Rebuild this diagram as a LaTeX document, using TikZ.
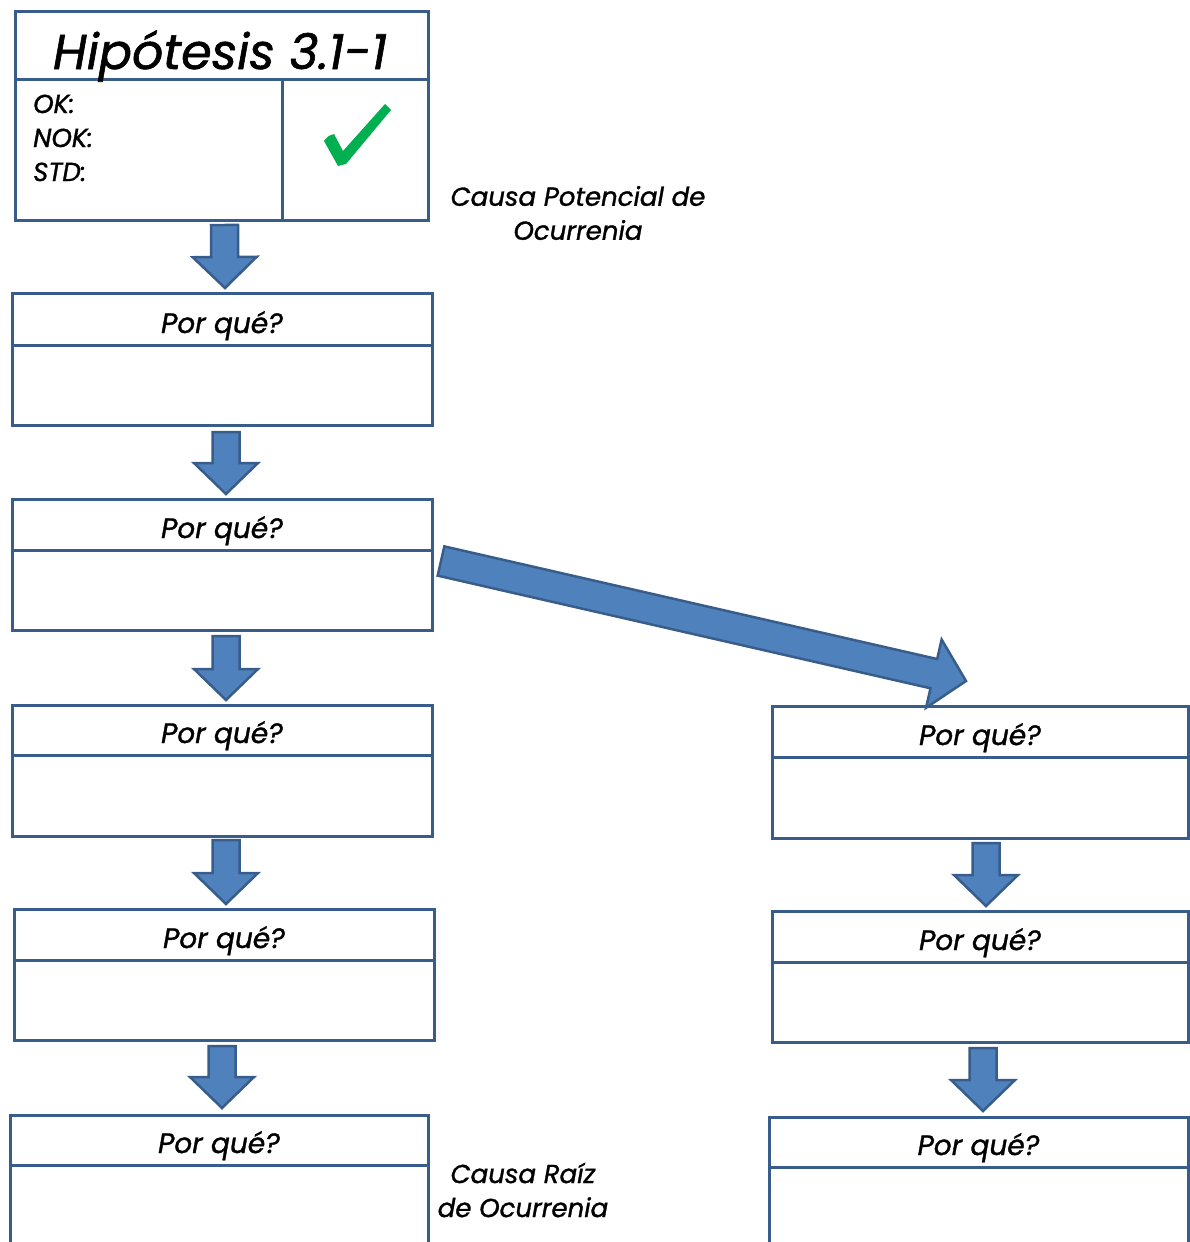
\documentclass[tikz,border=0pt]{standalone}
\usepackage{fontspec}
\setmainfont{Poppins}[ItalicFeatures={FakeBold=1.2}]
\usetikzlibrary{calc}

\definecolor{boxline}{RGB}{56,93,138}
\definecolor{arrowfill}{RGB}{79,129,189}
\definecolor{checkgreen}{RGB}{0,176,80}

\tikzset{
  frameline/.style={draw=boxline, line width=3pt},
  whyframe/.style={frameline, rectangle, inner sep=0pt, outer sep=0pt},
  whylabel/.style={font=\itshape\fontsize{28}{32}\selectfont, inner sep=0pt, anchor=base},
  fieldlabel/.style={font=\itshape\fontsize{26}{30}\selectfont, inner sep=0pt, anchor=base west},
  notelabel/.style={font=\itshape\fontsize{26}{34}\selectfont, inner sep=0pt, align=center},
  blockarrow/.style={draw=boxline, fill=arrowfill, line width=2.5pt, line join=miter},
}

% block arrow: tail, tip, shaft half width, head half width, head length
\newcommand\fatarrow[5]{%
  \coordinate (hb) at ($(#2)!#5!(#1)$);
  \draw[blockarrow] ($(#1)!#3!90:(#2)$) -- ($(hb)!#3!90:(#2)$) -- ($(hb)!#4!90:(#2)$)
    -- (#2) -- ($(hb)!#4!-90:(#2)$) -- ($(hb)!#3!-90:(#2)$) -- ($(#1)!#3!-90:(#2)$) -- cycle;
}

% "Por qué?" box: name, left, top, width, height, header height
\newcommand\whybox[6]{%
  \node[whyframe, minimum width=#4pt, minimum height=#5pt, anchor=north west] (#1) at (#2,#3) {};
  \draw[frameline] ($(#1.north west)+(0,#6)$) -- ($(#1.north east)+(0,#6)$);
  \node[whylabel] (#1-t) at ($(#1.north)+(0,#6-12)$) {Por qué?};
}

\begin{document}
\begin{tikzpicture}[x=1pt, y=-1pt]
\path[use as bounding box] (0,0) rectangle (1190,1242);
\clip (0,0) rectangle (1190,1242);

% hypothesis header box
\node[whyframe, minimum width=413pt, minimum height=209pt, anchor=north west] (hyp) at (15,11) {};
\draw[frameline] ($(hyp.north west)+(0,68)$) -- ($(hyp.north east)+(0,68)$);
\draw[frameline] ($(hyp.north west)+(267,68)$) -- ($(hyp.south west)+(267,0)$);
\node[font=\itshape\fontsize{49}{52}\selectfont, inner sep=0pt, anchor=base] (title) at (220,69) {Hipótesis 3.1-1};
\node[fieldlabel] (ok) at (33,113) {OK:};
\node[fieldlabel] (nok) at (33,147) {NOK:};
\node[fieldlabel] (std) at (33,181) {STD:};
\fill[checkgreen] (324,141) .. controls (328,136) .. (334,134) -- (343,151) -- (385,104) -- (391,110) -- (346,164) -- (338,166) -- cycle;

\node[notelabel] (potencial) at (578,213) {Causa Potencial de\\Ocurrenia};

% left column
\whybox{w1}{12}{293}{420}{132}{52}
\whybox{w2}{12}{499}{420}{131}{51}
\whybox{w3}{12}{705}{420}{131}{50}
\whybox{w4}{14}{909}{420}{131}{51}
\whybox{w5}{10}{1115}{418}{140}{50}

\node[notelabel] (raiz) at (523,1190) {Causa Raíz\\de Ocurrenia};

% right column
\whybox{r1}{772}{706}{416}{132}{51}
\whybox{r2}{772}{911}{416}{131}{51}
\whybox{r3}{769}{1117}{419}{140}{50}

% arrow end points
\coordinate (a1s) at ($(hyp.south)+(3,5)$);   \coordinate (a1e) at ($(w1.north)+(3,-5)$);
\coordinate (a2s) at ($(w1.south)+(4,7)$);    \coordinate (a2e) at ($(w2.north)+(4,-5)$);
\coordinate (a3s) at ($(w2.south)+(4,6)$);    \coordinate (a3e) at ($(w3.north)+(4,-5)$);
\coordinate (a4s) at ($(w3.south)+(4,4)$);    \coordinate (a4e) at ($(w4.north)+(2,-5)$);
\coordinate (a5s) at ($(w4.south)+(-2,6)$);   \coordinate (a5e) at ($(w5.north)+(3,-7)$);
\coordinate (b1s) at ($(r1.south)+(6,5)$);    \coordinate (b1e) at ($(r2.north)+(6,-5)$);
\coordinate (b2s) at ($(r2.south)+(3,6)$);    \coordinate (b2e) at ($(r3.north)+(4.5,-6)$);
\coordinate (cs) at ($(w2.north east)+(9,62)$);
\coordinate (ce) at ($(r1.north west)+(194,-25)$);

\fatarrow{a1s}{a1e}{13.5pt}{32pt}{31pt}
\fatarrow{a2s}{a2e}{13.5pt}{32pt}{31pt}
\fatarrow{a3s}{a3e}{13.5pt}{32pt}{31pt}
\fatarrow{a4s}{a4e}{13.5pt}{32pt}{31pt}
\fatarrow{a5s}{a5e}{13.5pt}{32pt}{31pt}
\fatarrow{b1s}{b1e}{13.5pt}{32pt}{31pt}
\fatarrow{b2s}{b2e}{13.5pt}{32pt}{31pt}
\fatarrow{cs}{ce}{15pt}{35pt}{33pt}
\end{tikzpicture}
\end{document}
